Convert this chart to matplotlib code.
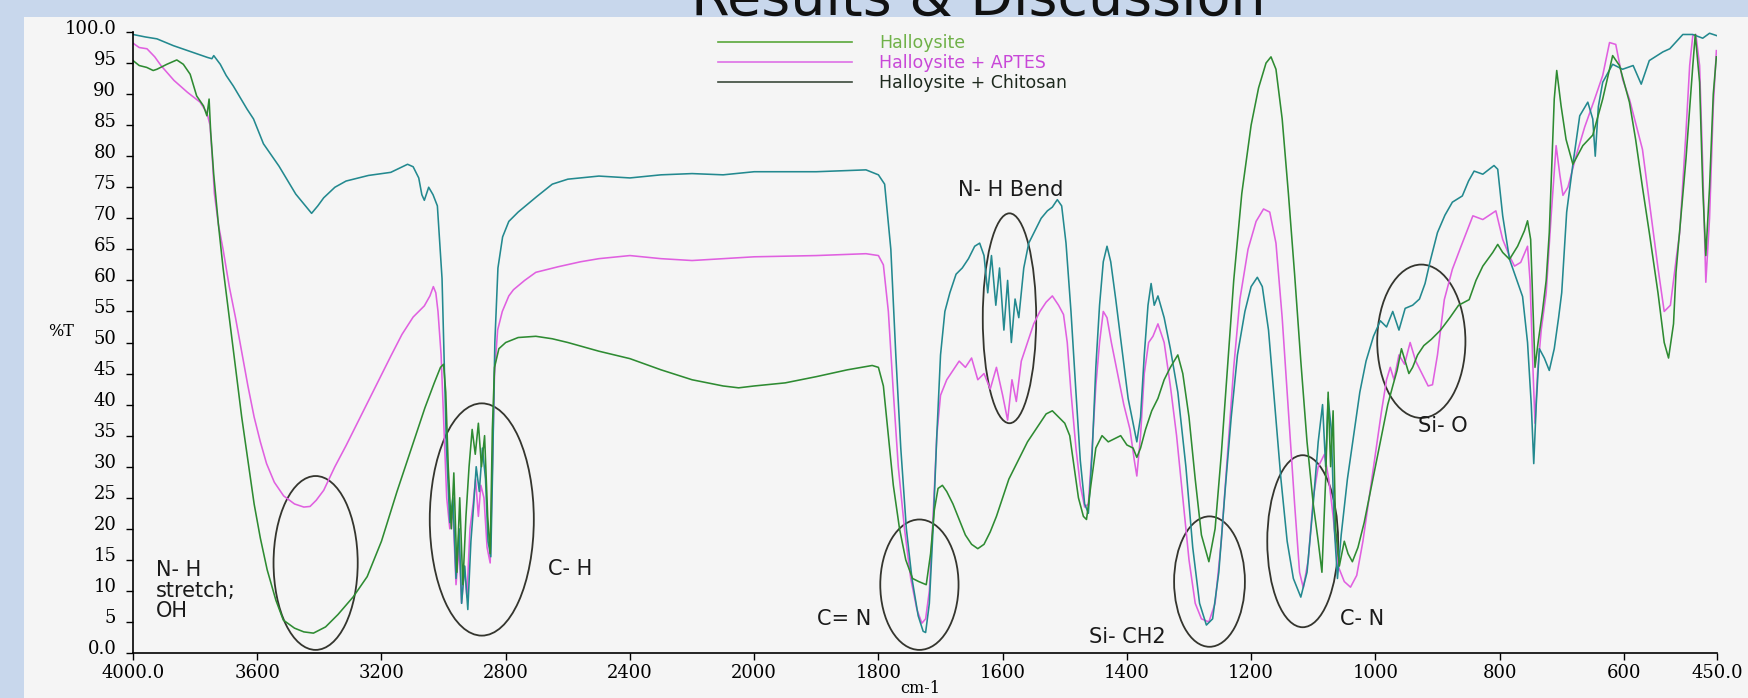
import numpy as np
import matplotlib
matplotlib.use('Agg')
import matplotlib.pyplot as plt
from matplotlib.patches import Ellipse, Rectangle
from matplotlib.lines import Line2D
from matplotlib.transforms import ScaledTranslation

# spectra: (wavenumber cm-1, %T)
chitosan = [
    (4000, 99.6), (3960, 99.2), (3923, 98.9), (3870, 97.8), (3806, 96.7), (3760, 95.9), (3746, 95.7),
    (3740, 96.2), (3719, 94.8), (3700, 93), (3677, 91.3), (3633, 87.6), (3612, 86), (3580, 82),
    (3530, 78.4), (3476, 73.9), (3445, 72), (3425, 70.8), (3405, 72), (3386, 73.3), (3350, 75),
    (3314, 76), (3242, 76.9), (3170, 77.4), (3116, 78.7), (3098, 78.3), (3080, 76.5), (3070, 73.8),
    (3062, 72.9), (3048, 75), (3034, 73.8), (3020, 72), (3005, 60.3), (2991, 33.4), (2980, 21),
    (2970, 25), (2960, 12), (2950, 20), (2942, 8), (2932, 14), (2922, 7), (2912, 18), (2903, 24),
    (2895, 30), (2885, 26), (2875, 33), (2865, 28), (2857, 18), (2848, 15.5), (2842, 30), (2835, 50),
    (2825, 62), (2810, 67), (2790, 69.5), (2760, 71), (2700, 73.5), (2650, 75.5), (2600, 76.3),
    (2500, 76.8), (2400, 76.5), (2300, 77), (2200, 77.2), (2100, 77), (2000, 77.5), (1900, 77.5),
    (1820, 77.8), (1800, 77), (1790, 75.5), (1780, 65), (1772, 48), (1764, 33), (1755, 20), (1746, 12),
    (1736, 6), (1728, 3.5), (1724, 3.3), (1718, 8), (1712, 20), (1706, 35), (1700, 48), (1693, 55),
    (1685, 58), (1675, 61), (1665, 62), (1655, 63.5), (1645, 65.5), (1637, 66), (1630, 64), (1624, 58),
    (1618, 64), (1611, 56), (1605, 62), (1598, 52), (1592, 60), (1586, 50), (1580, 57), (1574, 54),
    (1566, 62), (1558, 66), (1548, 68), (1538, 70), (1528, 71.2), (1520, 71.8), (1512, 73), (1505, 72),
    (1498, 66), (1490, 55), (1482, 42), (1475, 31), (1468, 24), (1462, 22.5), (1456, 32), (1450, 46),
    (1444, 56), (1438, 63), (1432, 65.5), (1426, 63), (1418, 57), (1408, 49), (1398, 41), (1390, 37),
    (1384, 34), (1378, 38), (1372, 48), (1366, 56), (1361, 59.5), (1356, 56), (1350, 57.5), (1340, 54),
    (1330, 49), (1318, 42), (1305, 30), (1294, 17), (1283, 8), (1272, 4.5), (1262, 5.5), (1252, 13),
    (1242, 26), (1232, 38), (1222, 48), (1210, 55), (1200, 59), (1190, 60.5), (1182, 59), (1172, 52),
    (1162, 40), (1152, 28), (1142, 18), (1132, 12), (1120, 9), (1110, 13), (1100, 24), (1092, 34),
    (1085, 40), (1080, 30), (1076, 41), (1071, 36), (1066, 20), (1061, 12), (1055, 19), (1045, 28),
    (1035, 35), (1025, 42), (1015, 47), (1003, 51), (992, 53.5), (982, 52.5), (972, 55), (962, 52),
    (952, 55.5), (940, 56), (929, 57), (920, 59.5), (911, 63.4), (900, 67.7), (888, 70.5), (876, 72.6),
    (860, 73.6), (850, 76), (841, 77.6), (827, 77.1), (809, 78.5), (803, 77.9), (795, 70.4), (784, 63.4),
    (771, 59.7), (763, 57.4), (755, 50), (749, 40), (745, 30.5), (741, 40), (736, 49), (728, 47.5),
    (720, 45.5), (712, 49), (705, 54), (700, 58), (692, 71), (682, 78.7), (671, 86.5), (658, 88.7),
    (650, 86), (646, 80), (641, 88), (634, 91.9), (618, 94.8), (602, 94), (585, 94.6), (572, 91.6),
    (559, 95.4), (537, 96.8), (526, 97.3), (505, 99.6), (489, 99.6), (473, 99), (462, 99.8), (450, 99.4),
]

aptes = [
    (4000, 98.2), (3980, 97.5), (3955, 97.3), (3930, 96), (3910, 94.6), (3868, 92.2), (3825, 90.3),
    (3784, 88.7), (3762, 87), (3752, 85), (3745, 80), (3738, 74), (3725, 69), (3710, 65), (3690, 59),
    (3670, 54), (3650, 48.5), (3630, 43), (3610, 38), (3590, 34), (3570, 30.5), (3545, 27.5),
    (3515, 25.3), (3480, 24), (3450, 23.5), (3430, 23.6), (3410, 24.6), (3386, 26.2), (3350, 30),
    (3314, 33.4), (3278, 37), (3242, 40.6), (3206, 44.2), (3170, 47.8), (3134, 51.3), (3098, 54.1),
    (3062, 55.9), (3044, 57.5), (3033, 59), (3025, 58), (3018, 55), (3008, 48), (2998, 35), (2990, 25),
    (2980, 20), (2970, 23), (2960, 11), (2950, 17), (2942, 8), (2933, 14), (2925, 9), (2915, 20),
    (2905, 24), (2897, 28), (2888, 22), (2880, 27), (2870, 25), (2860, 17), (2850, 14.5), (2843, 30),
    (2836, 45), (2826, 52), (2811, 55), (2790, 57.5), (2775, 58.5), (2739, 60), (2703, 61.3),
    (2631, 62.2), (2559, 63), (2500, 63.5), (2400, 64), (2300, 63.5), (2200, 63.2), (2100, 63.5),
    (2000, 63.8), (1900, 64), (1820, 64.3), (1800, 64), (1792, 62.5), (1784, 55), (1776, 42),
    (1768, 30), (1758, 20), (1748, 12), (1738, 7), (1730, 4.8), (1724, 5.5), (1718, 10), (1712, 22),
    (1706, 35), (1700, 41.5), (1690, 44), (1680, 45.5), (1670, 47), (1660, 46), (1650, 47.5),
    (1640, 44), (1630, 45), (1620, 42.5), (1610, 46), (1600, 41.5), (1592, 37.5), (1585, 44),
    (1578, 40.5), (1570, 47), (1560, 50), (1550, 53), (1540, 55), (1530, 56.5), (1520, 57.5),
    (1510, 56), (1502, 54.5), (1496, 50), (1490, 42), (1482, 33), (1475, 27), (1468, 23.5), (1462, 24),
    (1456, 33), (1450, 43), (1444, 50), (1438, 55), (1432, 54), (1425, 50), (1415, 45), (1405, 40),
    (1395, 36), (1388, 31), (1384, 28.5), (1378, 35), (1372, 45), (1365, 50), (1358, 51), (1350, 53),
    (1340, 50), (1330, 43), (1320, 35), (1310, 25), (1300, 15), (1290, 8), (1280, 5.5), (1268, 5),
    (1258, 8), (1248, 18), (1238, 32), (1228, 46), (1218, 57), (1205, 65), (1192, 69.5), (1180, 71.5),
    (1170, 71), (1160, 66), (1150, 54), (1140, 39), (1130, 24), (1122, 13), (1116, 10.5), (1108, 15),
    (1100, 25), (1092, 30), (1082, 32), (1075, 28), (1068, 22), (1060, 14), (1050, 11.5), (1040, 10.6),
    (1030, 12.5), (1020, 18), (1010, 25), (1000, 32), (990, 39), (982, 44), (976, 46), (970, 44),
    (962, 48), (953, 46.5), (944, 50), (935, 47), (925, 45), (915, 43), (908, 43.2), (900, 48),
    (889, 56.9), (876, 61.8), (862, 65.5), (843, 70.4), (827, 69.8), (806, 71.2), (795, 66.6),
    (784, 63.9), (776, 62.3), (766, 62.9), (755, 65.5), (751, 60), (746, 45), (743, 37), (739, 45),
    (733, 52), (725, 58), (717, 70.4), (709, 81.7), (703, 77), (698, 73.7), (690, 75), (677, 80),
    (663, 84.7), (647, 89.2), (634, 93), (623, 98.3), (613, 98), (602, 92.4), (591, 89.2), (570, 81.1),
    (556, 70.4), (545, 62), (535, 55), (525, 56), (515, 64), (510, 67.7), (500, 83.8), (494, 94.6),
    (489, 99.4), (484, 99.6), (478, 94.6), (473, 78.5), (468, 59.7), (462, 70), (456, 88), (451, 97),
]

halloysite = [
    (4000, 95.4), (3980, 94.6), (3956, 94.3), (3935, 93.8), (3923, 94), (3891, 94.8), (3859, 95.5),
    (3838, 94.8), (3816, 93.2), (3795, 89.7), (3773, 88.1), (3762, 86.5), (3755, 89.2), (3750, 84),
    (3740, 77), (3725, 69), (3710, 62), (3690, 54), (3670, 46), (3650, 38), (3630, 31), (3610, 24),
    (3590, 18.5), (3568, 13.4), (3540, 8.5), (3516, 5.3), (3480, 4), (3450, 3.4), (3419, 3.2),
    (3380, 4.2), (3340, 6.2), (3290, 9.1), (3246, 12.3), (3200, 18), (3150, 26), (3100, 33.5),
    (3060, 39.5), (3030, 43.5), (3010, 46), (3000, 46.5), (2993, 42), (2985, 30), (2975, 20),
    (2967, 29), (2957, 13), (2948, 25), (2938, 11), (2928, 22), (2918, 30), (2908, 36), (2898, 32),
    (2888, 37), (2878, 30), (2868, 35), (2858, 22), (2850, 16), (2843, 36), (2836, 46), (2822, 49),
    (2800, 50), (2760, 50.8), (2703, 51), (2650, 50.6), (2600, 50), (2500, 48.6), (2400, 47.4),
    (2300, 45.6), (2200, 44), (2100, 43), (2050, 42.7), (2000, 43), (1950, 43.5), (1900, 44.5),
    (1850, 45.6), (1810, 46.3), (1800, 46), (1792, 43), (1784, 35), (1776, 27), (1766, 20), (1756, 15),
    (1745, 12), (1735, 11.5), (1723, 11), (1716, 16), (1710, 23), (1704, 26.5), (1697, 27), (1690, 26),
    (1680, 24), (1670, 21.5), (1660, 19), (1650, 17.5), (1640, 16.8), (1630, 17.5), (1620, 19.5),
    (1610, 22), (1600, 25), (1590, 28), (1580, 30), (1570, 32), (1560, 34), (1550, 35.5), (1540, 37),
    (1530, 38.5), (1520, 39), (1510, 38), (1500, 37), (1492, 35), (1485, 30), (1478, 25), (1470, 22),
    (1465, 21.5), (1458, 27), (1450, 33), (1440, 35), (1430, 34), (1420, 34.5), (1410, 35),
    (1400, 33.5), (1390, 33), (1384, 31.5), (1378, 33), (1370, 36), (1360, 39), (1350, 41), (1340, 44),
    (1330, 46), (1318, 48), (1310, 45), (1300, 38), (1290, 28), (1280, 19), (1268, 14.7), (1258, 20),
    (1248, 32), (1238, 46), (1228, 60), (1215, 74), (1200, 85), (1188, 91), (1176, 95), (1168, 96),
    (1160, 94), (1150, 86), (1140, 74), (1130, 61), (1120, 47), (1110, 34), (1100, 24), (1092, 18),
    (1086, 13), (1080, 28), (1076, 42), (1072, 30), (1068, 39), (1064, 20), (1058, 14), (1050, 18),
    (1044, 16), (1037, 14.7), (1028, 17), (1018, 21), (1008, 26), (998, 31), (988, 36), (980, 40),
    (972, 43), (965, 45.5), (958, 49), (952, 47), (946, 45), (940, 46), (932, 48), (922, 49.5),
    (910, 50.5), (895, 52), (880, 54), (866, 56), (849, 56.9), (838, 60), (827, 62.3), (811, 64.5),
    (803, 65.8), (795, 64.5), (784, 63.4), (771, 65.5), (760, 68), (755, 69.6), (750, 66.6), (746, 55),
    (743, 46), (738, 50), (731, 55), (725, 60), (720, 67.7), (712, 89.2), (708, 93.8), (701, 88.1),
    (693, 82.7), (682, 78.7), (666, 81.7), (650, 83.4), (634, 89.2), (618, 96.2), (607, 94.6),
    (591, 88.7), (581, 82.7), (570, 75), (559, 67.7), (545, 58), (535, 50), (528, 47.5), (520, 53),
    (516, 61.3), (500, 79.5), (489, 94.5), (485, 99.6), (478, 91.9), (473, 75), (468, 64), (462, 75),
    (456, 90), (451, 96),
]

x_ticks = [4000, 3600, 3200, 2800, 2400, 2000, 1800, 1600, 1400, 1200, 1000, 800, 600, 450]
x_tick_labels = ['4000.0', '3600', '3200', '2800', '2400', '2000', '1800', '1600', '1400',
                 '1200', '1000', '800', '600', '450.0']
y_ticks = list(range(0, 101, 5))
y_tick_labels = ['0.0'] + [str(v) for v in y_ticks[1:-1]] + ['100.0']

legend_labels = ['Halloysite', 'Halloysite + APTES', 'Halloysite + Chitosan']
legend_line_colors = ['#5aa83a', '#dd70e6', '#3c4a3c']
legend_text_colors = ['#6fb248', '#c848d8', '#1e2a1e']

# (centre wavenumber, centre %T, width in cm-1, height in %T)
ellipses = [
    (3412, 14.5, 271, 28.0),
    (2877, 21.5, 335, 37.4),
    (1734, 11.0, 126, 21.0),
    (1589, 53.9, 86, 33.8),
    (1267, 11.5, 114, 21.0),
    (1117, 18.0, 114, 27.7),
    (926, 50.2, 142, 24.7),
]
# (text, wavenumber, %T)
band_labels = [
    ('C- H', 2591, 13.6),
    ('C= N', 1856, 5.5),
    ('N- H Bend', 1587, 74.6),
    ('Si- CH2', 1399, 2.5),
    ('C- N', 1021, 5.5),
    ('Si- O', 892, 36.5),
]

teal = '#23898f'
magenta = '#e060e0'
green = '#2e8b32'


def fwd(w):
    w = np.asarray(w, dtype=float)
    return np.where(w >= 2000, w, 2 * w - 2000)


def inv(p):
    p = np.asarray(p, dtype=float)
    return np.where(p >= 2000, p, (p + 2000) / 2)


W, H = 1748, 698
fig = plt.figure(figsize=(W / 100, H / 100), dpi=100)
fig.patch.set_facecolor('#c8d7ec')
fig.add_artist(Rectangle((24 / W, 0), 1, (H - 17) / H, transform=fig.transFigure,
                         facecolor='#f5f5f5', edgecolor='none', zorder=-5))
fig.text(978 / W, 1 - 15 / H, 'Results & Discussion', fontsize=40, ha='center',
         va='baseline', family='DejaVu Sans', color='#111111')

ax = fig.add_axes([133 / W, 45 / H, (1717 - 133) / W, (653 - 32) / H])
ax.set_facecolor('none')
ax.set_xscale('function', functions=(fwd, inv))

for pts, col in [(aptes, magenta), (chitosan, teal), (halloysite, green)]:
    arr = np.array(pts)
    ax.plot(arr[:, 0], arr[:, 1], color=col, lw=1.15)

for cx, cy, ew, eh in ellipses:
    ax.add_patch(Ellipse((cx, cy), ew, eh, facecolor='none', edgecolor='#34352e', lw=1.3))

ax.text(3925, 14.9, 'N- H\nstretch;\nOH', fontsize=15, family='DejaVu Sans', ha='left',
        va='top', linespacing=1.02, color='#1a1a1a')
for txt, wx, ty in band_labels:
    ax.text(wx, ty, txt, fontsize=15, family='DejaVu Sans', ha='center', va='center',
            color='#1a1a1a')

ax.set_xlim(4000, 450)
ax.set_ylim(0, 100)
ax.set_xticks(x_ticks)
ax.set_xticklabels(x_tick_labels)
ax.set_yticks(y_ticks)
ax.set_yticklabels(y_tick_labels)
ax.minorticks_off()
ax.tick_params(axis='both', direction='out', length=5, width=1, labelsize=13)
ax.tick_params(axis='y', pad=7)
ax.tick_params(axis='x', pad=3)
for lab in ax.get_xticklabels() + ax.get_yticklabels():
    lab.set_family('DejaVu Serif')
offset = ScaledTranslation(0, 5.5 / 100, fig.dpi_scale_trans)
for lab in ax.get_yticklabels():
    lab.set_transform(lab.get_transform() + offset)

for s in ['top', 'right']:
    ax.spines[s].set_visible(False)
for s in ['left', 'bottom']:
    ax.spines[s].set_linewidth(1.2)

ax.set_ylabel('%T', rotation=0, fontsize=11.5, family='DejaVu Serif', va='center', ha='center')
ax.yaxis.set_label_coords(-0.0455, 0.518)
ax.set_xlabel('cm-1', fontsize=11.5, family='DejaVu Serif', va='center')
ax.xaxis.set_label_coords(0.4968, -0.0565)

handles = [Line2D([], [], color=c, lw=1.2) for c in legend_line_colors]
ax.legend(handles, legend_labels, loc='upper left', bbox_to_anchor=(718 / W, 1 - 34 / H),
          bbox_transform=fig.transFigure, frameon=False,
          prop={'family': 'DejaVu Sans', 'size': 12.5},
          handlelength=7.7, handletextpad=1.6, labelspacing=0.12, borderpad=0, borderaxespad=0,
          labelcolor=legend_text_colors)

fig.savefig('out.png', dpi=100, facecolor=fig.get_facecolor())
